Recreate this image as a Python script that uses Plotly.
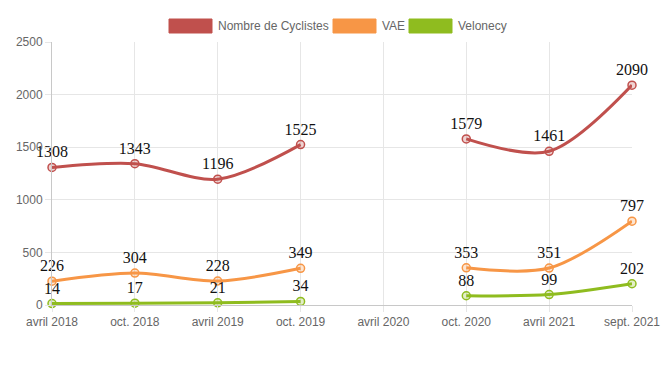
import plotly.graph_objects as go

categories = ["avril 2018", "oct. 2018", "avril 2019", "oct. 2019", "avril 2020",
              "oct. 2020", "avril 2021", "sept. 2021"]
cyclistes = [1308, 1343, 1196, 1525, None, 1579, 1461, 2090]
vae = [226, 304, 228, 349, None, 353, 351, 797]
velonecy = [14, 17, 21, 34, None, 88, 99, 202]
series_names = ["Nombre de Cyclistes", "VAE", "Velonecy"]
colors = ["#c0504d", "#f79646", "#8fbc1f"]
fills = ["rgba(192,80,77,0.25)", "rgba(247,150,70,0.25)", "rgba(143,188,31,0.25)"]
y_ticks = [0, 500, 1000, 1500, 2000, 2500]

fig = go.Figure()
for name, vals, c, f in zip(series_names, [cyclistes, vae, velonecy], colors, fills):
    fig.add_trace(go.Scatter(
        x=categories, y=vals, name=name, mode="lines+markers+text",
        line=dict(color=c, width=3, shape="spline", smoothing=0.9),
        marker=dict(size=8, color=f, line=dict(color=c, width=1.5)),
        text=[("" if v is None else str(v)) for v in vals],
        textposition="top center",
        textfont=dict(family="Liberation Serif, Times New Roman, serif", size=16, color="#111"),
        cliponaxis=False, connectgaps=False, showlegend=False,
    ))

# custom legend (wide colored boxes); positions in page pixels of the plot area (52..632, 42..305)
leg_x = [169, 333, 409]
for i, (name, c) in enumerate(zip(series_names, colors)):
    x0 = leg_x[i]
    fig.add_shape(type="rect", xref="paper", yref="paper",
                  x0=(x0 - 52) / 580, x1=(x0 + 43 - 52) / 580,
                  y0=(305 - 33) / 263, y1=(305 - 19) / 263,
                  fillcolor=c, line=dict(color=c, width=1), layer="above")
    fig.add_annotation(xref="paper", yref="paper", x=(x0 + 47 - 52) / 580,
                       y=(305 - 26) / 263, text=name, showarrow=False,
                       xanchor="left", yanchor="middle",
                       font=dict(family="Liberation Sans, Arial, sans-serif", size=12, color="#666"))

# page body has an 8px margin, so the figure is 8px smaller and margins compensate
fig.update_layout(
    width=664, height=364,
    margin=dict(l=44, r=40, t=34, b=67, autoexpand=False),
    paper_bgcolor="white", plot_bgcolor="white",
    font=dict(family="Liberation Sans, Arial, sans-serif", size=12, color="#666"),
    showlegend=False,
)
fig.update_xaxes(type="category", range=[0, 7], showgrid=True, gridcolor="#e6e6e6",
                 showline=True, linecolor="#c8c8c8", linewidth=1,
                 ticks="outside", ticklen=6, tickcolor="#e6e6e6",
                 tickfont=dict(size=12, color="#666"), zeroline=False)
fig.update_yaxes(range=[0, 2500], tickvals=y_ticks, showgrid=True, gridcolor="#e6e6e6",
                 showline=True, linecolor="#c8c8c8", linewidth=1,
                 ticks="outside", ticklen=6, tickcolor="#e6e6e6",
                 tickfont=dict(size=12, color="#666"), zeroline=False)

fig.write_html("out.html")
